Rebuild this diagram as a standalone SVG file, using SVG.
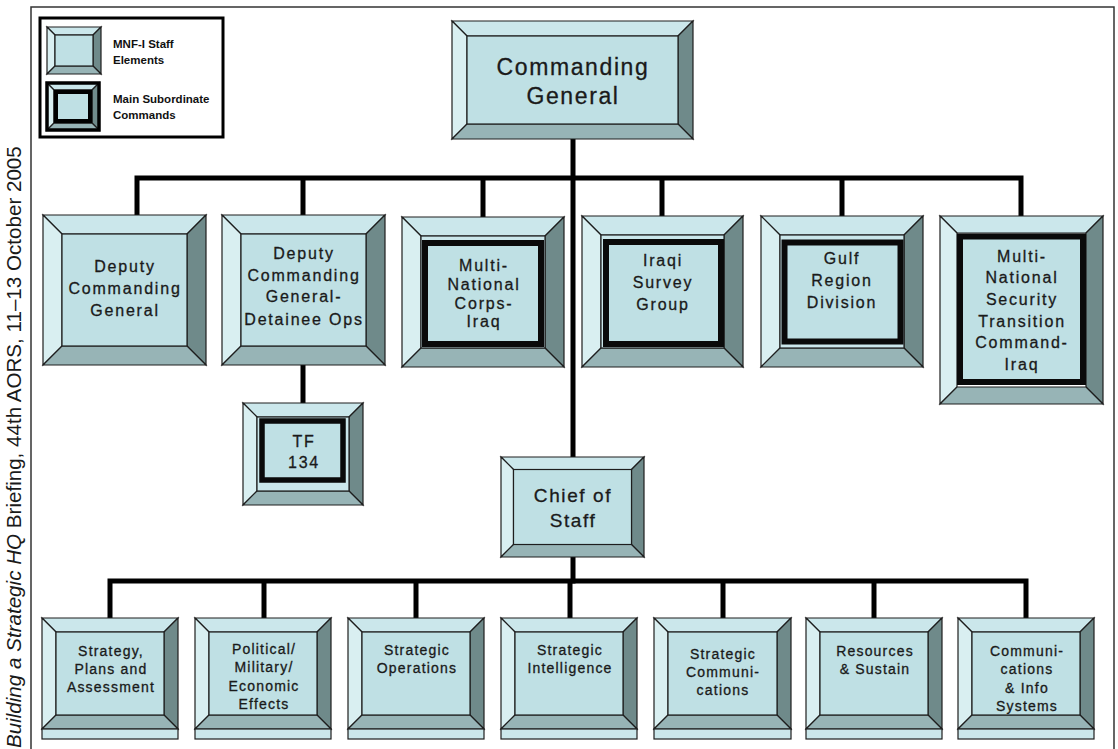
<svg xmlns="http://www.w3.org/2000/svg" width="1118" height="749" viewBox="0 0 1118 749">
<style>
.tp{fill:#cbe7eb}.lf{fill:#d9eff1}.rt{fill:#6f8a8a}.bt{fill:#97b4b6}.fc{fill:#bfe0e4}
.bv polygon,.bv rect{stroke:#1e1e1e;stroke-width:1.2;stroke-linejoin:miter}
.bv rect.blk{fill:none;stroke:#0a0a0a;stroke-width:6}
.bv rect.blk5{stroke-width:5.5}
.bv rect.lgo{fill:none;stroke:#000;stroke-width:3.5}
.bv rect.lgi{fill:none;stroke:#000;stroke-width:4}
.t{font-family:"Liberation Sans",Arial,sans-serif;fill:#1a1a1a;stroke:#1a1a1a;stroke-width:0.3;text-anchor:middle}
.t16{font-size:16px;letter-spacing:1.8px}
.t14{font-size:14px;letter-spacing:1.2px}
.lg{font-family:"Liberation Sans",Arial,sans-serif;font-weight:bold;font-size:11.5px;fill:#111}
.cn{stroke:#000;stroke-width:5;fill:none;stroke-linecap:square}
</style>
<rect x="0" y="0" width="1118" height="749" fill="#fff"/>
<path d="M31 749 V7 H1114 V749" fill="none" stroke="#333" stroke-width="1.5"/>
<text x="21" y="748" transform="rotate(-90 21 748)" font-family="'Liberation Sans',Arial,sans-serif" font-size="20.6" fill="#1a1a1a"><tspan font-style="italic">Building a Strategic HQ</tspan> Briefing, 44th AORS, 11–13 October 2005</text>

<g id="legend">
<rect x="40" y="18" width="183" height="119" fill="#fff" stroke="#000" stroke-width="3"/>
<g class="bv">
<polygon class="tp" points="47,27 101,27 93,35 55,35"/>
<polygon class="lf" points="47,27 55,35 55,66 47,74"/>
<polygon class="rt" points="101,27 101,74 93,66 93,35"/>
<polygon class="bt" points="47,74 55,66 93,66 101,74"/>
<rect class="fc" x="55" y="35" width="38" height="31"/>
</g>
<g class="bv">
<polygon class="tp" points="47,83 99,83 92,90 54,90"/>
<polygon class="lf" points="47,83 54,90 54,123 47,130"/>
<polygon class="rt" points="99,83 99,130 92,123 92,90"/>
<polygon class="bt" points="47,130 54,123 92,123 99,130"/>
<rect class="fc" x="54" y="90" width="38" height="33"/>
<rect class="lgo" x="47" y="83" width="52" height="47"/>
<rect class="lgi" x="56" y="92" width="34" height="29"/>
</g>
<text class="lg" x="113" y="48">MNF-I Staff</text>
<text class="lg" x="113" y="64">Elements</text>
<text class="lg" x="113" y="103">Main Subordinate</text>
<text class="lg" x="113" y="119">Commands</text>
</g>

<g id="connectors">
<path class="cn" d="M573 139 V457 M573 557 V581"/>
<path class="cn" d="M137 178 H1021 M137 178 V215 M303 178 V215 M483 178 V217 M662 178 V216 M842 178 V216 M1021 178 V216"/>
<path class="cn" d="M303 365 V403"/>
<path class="cn" d="M110 581 H1026 M110 581 V618 M264 581 V618 M416 581 V618 M570 581 V618 M723 581 V618 M874 581 V618 M1026 581 V618"/>
</g>

<g id="cg" class="bv">
<polygon class="tp" points="452,21 693,21 678,36 467,36"/>
<polygon class="lf" points="452,21 467,36 467,124 452,139"/>
<polygon class="rt" points="693,21 693,139 678,124 678,36"/>
<polygon class="bt" points="452,139 467,124 678,124 693,139"/>
<rect class="fc" x="467" y="36" width="211" height="88"/>
<text class="t" font-size="23" letter-spacing="1.6" x="573" y="75">Commanding</text>
<text class="t" font-size="23" letter-spacing="1.6" x="573" y="104">General</text>
</g>

<g id="dcg" class="bv">
<polygon class="tp" points="43,215 206,215 187,234 62,234"/>
<polygon class="lf" points="43,215 62,234 62,346 43,365"/>
<polygon class="rt" points="206,215 206,365 187,346 187,234"/>
<polygon class="bt" points="43,365 62,346 187,346 206,365"/>
<rect class="fc" x="62" y="234" width="125" height="112"/>
<text class="t t16" x="125" y="272">Deputy</text>
<text class="t t16" x="125" y="294">Commanding</text>
<text class="t t16" x="125" y="316">General</text>
</g>

<g id="dcgdo" class="bv">
<polygon class="tp" points="222,215 385,215 366,234 241,234"/>
<polygon class="lf" points="222,215 241,234 241,346 222,365"/>
<polygon class="rt" points="385,215 385,365 366,346 366,234"/>
<polygon class="bt" points="222,365 241,346 366,346 385,365"/>
<rect class="fc" x="241" y="234" width="125" height="112"/>
<text class="t t16" x="304" y="259">Deputy</text>
<text class="t t16" x="304" y="280.5">Commanding</text>
<text class="t t16" x="304" y="302">General-</text>
<text class="t t16" x="304" y="324.5">Detainee Ops</text>
</g>

<g id="mnci" class="bv">
<polygon class="tp" points="402,217 564,217 545,236 421,236"/>
<polygon class="lf" points="402,217 421,236 421,348 402,367"/>
<polygon class="rt" points="564,217 564,367 545,348 545,236"/>
<polygon class="bt" points="402,367 421,348 545,348 564,367"/>
<rect class="tp" x="421" y="236" width="124" height="112"/>
<rect class="fc" x="425" y="243" width="116" height="101"/>
<rect class="blk" x="425" y="243" width="116" height="101"/>
<text class="t t16" x="484" y="271">Multi-</text>
<text class="t t16" x="484" y="289.5">National</text>
<text class="t t16" x="484" y="309">Corps-</text>
<text class="t t16" x="484" y="327">Iraq</text>
</g>

<g id="isg" class="bv">
<polygon class="tp" points="582,216 743,216 724,235 601,235"/>
<polygon class="lf" points="582,216 601,235 601,348 582,367"/>
<polygon class="rt" points="743,216 743,367 724,348 724,235"/>
<polygon class="bt" points="582,367 601,348 724,348 743,367"/>
<rect class="tp" x="601" y="235" width="123" height="113"/>
<rect class="fc" x="606" y="242" width="115" height="102"/>
<rect class="blk" x="606" y="242" width="115" height="102"/>
<text class="t t16" x="663" y="265.5">Iraqi</text>
<text class="t t16" x="663" y="287.5">Survey</text>
<text class="t t16" x="663" y="310">Group</text>
</g>

<g id="grd" class="bv">
<polygon class="tp" points="761,216 923,216 904,235 780,235"/>
<polygon class="lf" points="761,216 780,235 780,348 761,367"/>
<polygon class="rt" points="923,216 923,367 904,348 904,235"/>
<polygon class="bt" points="761,367 780,348 904,348 923,367"/>
<rect class="tp" x="780" y="235" width="124" height="113"/>
<rect class="fc" x="784.5" y="242.5" width="116" height="99"/>
<rect class="blk" x="784.5" y="242.5" width="116" height="99"/>
<text class="t t16" x="842" y="263.5">Gulf</text>
<text class="t t16" x="842" y="285.5">Region</text>
<text class="t t16" x="842" y="307.5">Division</text>
</g>

<g id="mnstci" class="bv">
<polygon class="tp" points="940,216 1103,216 1086,233 957,233"/>
<polygon class="lf" points="940,216 957,233 957,387 940,404"/>
<polygon class="rt" points="1103,216 1103,404 1086,387 1086,233"/>
<polygon class="bt" points="940,404 957,387 1086,387 1103,404"/>
<rect class="fc" x="960" y="236.5" width="123" height="145.5"/>
<rect class="blk" x="960" y="236.5" width="123" height="145.5"/>
<text class="t t16" x="1022" y="261.5">Multi-</text>
<text class="t t16" x="1022" y="283">National</text>
<text class="t t16" x="1022" y="304.5">Security</text>
<text class="t t16" x="1022" y="326.5">Transition</text>
<text class="t t16" x="1022" y="348">Command-</text>
<text class="t t16" x="1022" y="370">Iraq</text>
</g>

<g id="tf134" class="bv">
<polygon class="tp" points="243,403 363,403 349,417 257,417"/>
<polygon class="lf" points="243,403 257,417 257,491 243,505"/>
<polygon class="rt" points="363,403 363,505 349,491 349,417"/>
<polygon class="bt" points="243,505 257,491 349,491 363,505"/>
<rect class="tp" x="257" y="417" width="92" height="74"/>
<rect class="fc" x="262" y="421" width="81" height="59"/>
<rect class="blk blk5" x="262" y="421" width="81" height="59"/>
<text class="t t16" x="304" y="446.5">TF</text>
<text class="t t16" x="304" y="467.5">134</text>
</g>

<g id="cos" class="bv">
<polygon class="tp" points="501,457 644,457 631.5,469.5 513.5,469.5"/>
<polygon class="lf" points="501,457 513.5,469.5 513.5,544.5 501,557"/>
<polygon class="rt" points="644,457 644,557 631.5,544.5 631.5,469.5"/>
<polygon class="bt" points="501,557 513.5,544.5 631.5,544.5 644,557"/>
<rect class="fc" x="513.5" y="469.5" width="118" height="75"/>
<text class="t" font-size="19" letter-spacing="1.6" x="573" y="501.5">Chief of</text>
<text class="t" font-size="19" letter-spacing="1.6" x="573" y="527">Staff</text>
</g>

<g id="spa" class="bv">
<polygon class="tp" points="42,618 178,618 164,632 56,632"/>
<polygon class="lf" points="42,618 56,632 56,715 42,729"/>
<polygon class="rt" points="178,618 178,729 164,715 164,632"/>
<polygon class="bt" points="42,729 56,715 164,715 178,729"/>
<rect class="fc" x="56" y="632" width="108" height="83"/>
<rect class="tp" x="42" y="729" width="136" height="10"/>
<text class="t t14" x="111" y="656">Strategy,</text>
<text class="t t14" x="111" y="674">Plans and</text>
<text class="t t14" x="111" y="692">Assessment</text>
</g>

<g id="pme" class="bv">
<polygon class="tp" points="195,618 331,618 317,632 209,632"/>
<polygon class="lf" points="195,618 209,632 209,715 195,729"/>
<polygon class="rt" points="331,618 331,729 317,715 317,632"/>
<polygon class="bt" points="195,729 209,715 317,715 331,729"/>
<rect class="fc" x="209" y="632" width="108" height="83"/>
<rect class="tp" x="195" y="729" width="136" height="10"/>
<text class="t t14" x="264" y="654">Political/</text>
<text class="t t14" x="264" y="672">Military/</text>
<text class="t t14" x="264" y="690.5">Economic</text>
<text class="t t14" x="264" y="708.5">Effects</text>
</g>

<g id="sops" class="bv">
<polygon class="tp" points="348,618 484,618 470,632 362,632"/>
<polygon class="lf" points="348,618 362,632 362,715 348,729"/>
<polygon class="rt" points="484,618 484,729 470,715 470,632"/>
<polygon class="bt" points="348,729 362,715 470,715 484,729"/>
<rect class="fc" x="362" y="632" width="108" height="83"/>
<rect class="tp" x="348" y="729" width="136" height="10"/>
<text class="t t14" x="417" y="655">Strategic</text>
<text class="t t14" x="417" y="672.5">Operations</text>
</g>

<g id="sint" class="bv">
<polygon class="tp" points="501,618 637,618 623,632 515,632"/>
<polygon class="lf" points="501,618 515,632 515,715 501,729"/>
<polygon class="rt" points="637,618 637,729 623,715 623,632"/>
<polygon class="bt" points="501,729 515,715 623,715 637,729"/>
<rect class="fc" x="515" y="632" width="108" height="83"/>
<rect class="tp" x="501" y="729" width="136" height="10"/>
<text class="t t14" x="570" y="654.5">Strategic</text>
<text class="t t14" x="570" y="672.5">Intelligence</text>
</g>

<g id="scom" class="bv">
<polygon class="tp" points="654,618 791,618 777,632 668,632"/>
<polygon class="lf" points="654,618 668,632 668,715 654,729"/>
<polygon class="rt" points="791,618 791,729 777,715 777,632"/>
<polygon class="bt" points="654,729 668,715 777,715 791,729"/>
<rect class="fc" x="668" y="632" width="109" height="83"/>
<rect class="tp" x="654" y="729" width="137" height="10"/>
<text class="t t14" x="723" y="659">Strategic</text>
<text class="t t14" x="723" y="677">Communi-</text>
<text class="t t14" x="723" y="694.5">cations</text>
</g>

<g id="res" class="bv">
<polygon class="tp" points="806,618 942,618 928,632 820,632"/>
<polygon class="lf" points="806,618 820,632 820,715 806,729"/>
<polygon class="rt" points="942,618 942,729 928,715 928,632"/>
<polygon class="bt" points="806,729 820,715 928,715 942,729"/>
<rect class="fc" x="820" y="632" width="108" height="83"/>
<rect class="tp" x="806" y="729" width="136" height="10"/>
<text class="t t14" x="875" y="656">Resources</text>
<text class="t t14" x="875" y="674">&amp; Sustain</text>
</g>

<g id="cis" class="bv">
<polygon class="tp" points="958,618 1094,618 1080,632 972,632"/>
<polygon class="lf" points="958,618 972,632 972,715 958,729"/>
<polygon class="rt" points="1094,618 1094,729 1080,715 1080,632"/>
<polygon class="bt" points="958,729 972,715 1080,715 1094,729"/>
<rect class="fc" x="972" y="632" width="108" height="83"/>
<rect class="tp" x="958" y="729" width="136" height="10"/>
<text class="t t14" x="1027" y="656">Communi-</text>
<text class="t t14" x="1027" y="674">cations</text>
<text class="t t14" x="1027" y="692.5">&amp; Info</text>
<text class="t t14" x="1027" y="710.5">Systems</text>
</g>
</svg>
